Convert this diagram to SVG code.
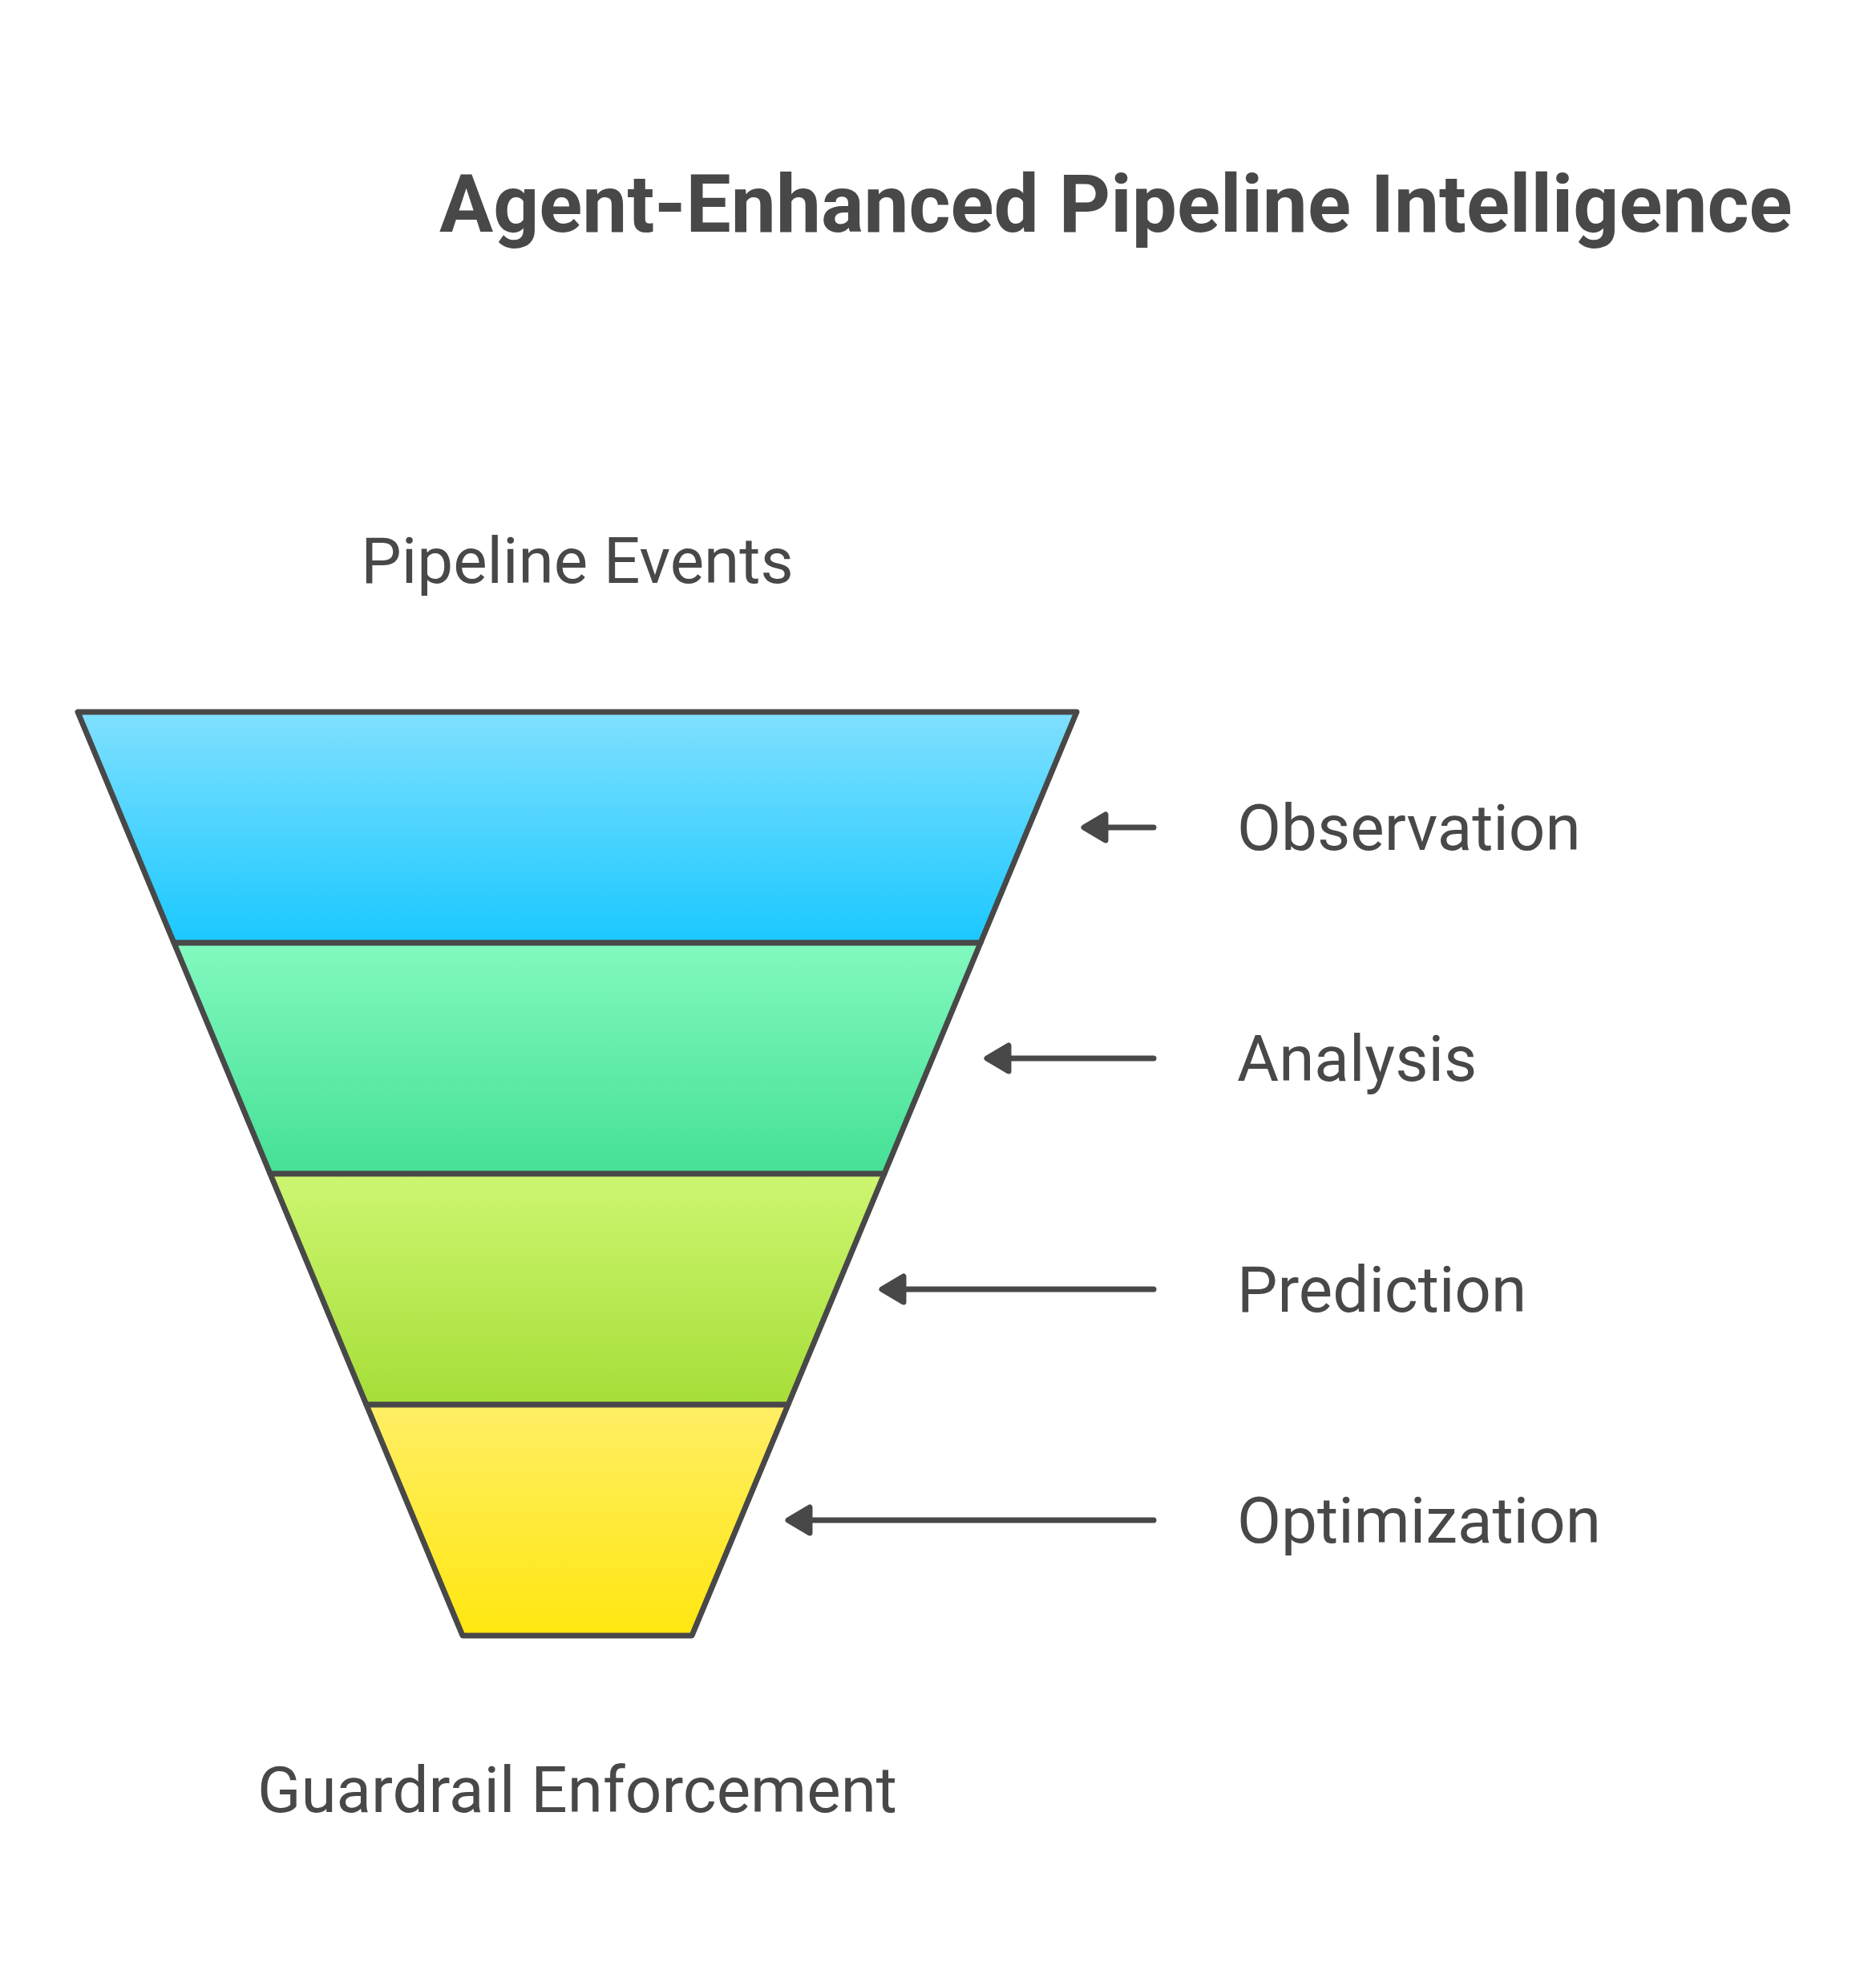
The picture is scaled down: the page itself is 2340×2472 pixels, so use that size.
<svg xmlns="http://www.w3.org/2000/svg" width="2340" height="2472" viewBox="0 0 2340 2472">
<defs>
<linearGradient id="g1" x1="0" y1="0" x2="0" y2="1"><stop offset="0" stop-color="#80E0FF"/><stop offset="1" stop-color="#1AC8FF"/></linearGradient>
<linearGradient id="g2" x1="0" y1="0" x2="0" y2="1"><stop offset="0" stop-color="#82F9BF"/><stop offset="1" stop-color="#45E095"/></linearGradient>
<linearGradient id="g3" x1="0" y1="0" x2="0" y2="1"><stop offset="0" stop-color="#CDF671"/><stop offset="1" stop-color="#A6DE38"/></linearGradient>
<linearGradient id="g4" x1="0" y1="0" x2="0" y2="1"><stop offset="0" stop-color="#FFEE66"/><stop offset="1" stop-color="#FFE70F"/></linearGradient>
<style>
.band{stroke:#484848;stroke-width:7;stroke-linejoin:round}
.lbl{font-family:Roboto,"Liberation Sans",sans-serif;font-size:80px;fill:#484848}
.title{font-family:Roboto,"Liberation Sans",sans-serif;font-size:100px;font-weight:bold;fill:#484848}
.ln{stroke:#484848;stroke-width:7;stroke-linecap:round;fill:none}
.hd{fill:#484848;stroke:#484848;stroke-width:7;stroke-linejoin:round}
</style>
</defs>
<rect width="2340" height="2472" fill="#FFFFFF"/>
<text id="title" class="title" x="548" y="289">Agent-Enhanced Pipeline Intelligence</text>
<text id="top-label" class="lbl" x="720" y="727" text-anchor="middle">Pipeline Events</text>
<text id="bottom-label" class="lbl" x="720" y="2260" text-anchor="middle">Guardrail Enforcement</text>
<g id="observation">
<polygon class="band" fill="url(#g1)" points="97,888 1343,888 1223,1176 217,1176"/>
<text class="lbl" x="1543" y="1060">Observation</text>
</g>
<g id="analysis">
<polygon class="band" fill="url(#g2)" points="217,1176 1223,1176 1103,1464 337,1464"/>
<text class="lbl" x="1543" y="1348">Analysis</text>
</g>
<g id="prediction">
<polygon class="band" fill="url(#g3)" points="337,1464 1103,1464 983,1752 457,1752"/>
<text class="lbl" x="1543" y="1636">Prediction</text>
</g>
<g id="optimization">
<polygon class="band" fill="url(#g4)" points="457,1752 983,1752 863,2040 577,2040"/>
<text class="lbl" x="1543" y="1924">Optimization</text>
</g>
<g id="connectors">
<line class="ln" x1="1378" y1="1032" x2="1439" y2="1032"/>
<polygon class="hd" points="1352,1032 1379,1016 1379,1048"/>
<line class="ln" x1="1258" y1="1320" x2="1439" y2="1320"/>
<polygon class="hd" points="1231,1320 1258,1304 1258,1336"/>
<line class="ln" x1="1127" y1="1608" x2="1439" y2="1608"/>
<polygon class="hd" points="1100,1608 1127,1592 1127,1624"/>
<line class="ln" x1="1010" y1="1896" x2="1439" y2="1896"/>
<polygon class="hd" points="983,1896 1010,1880 1010,1912"/>
</g>
</svg>
